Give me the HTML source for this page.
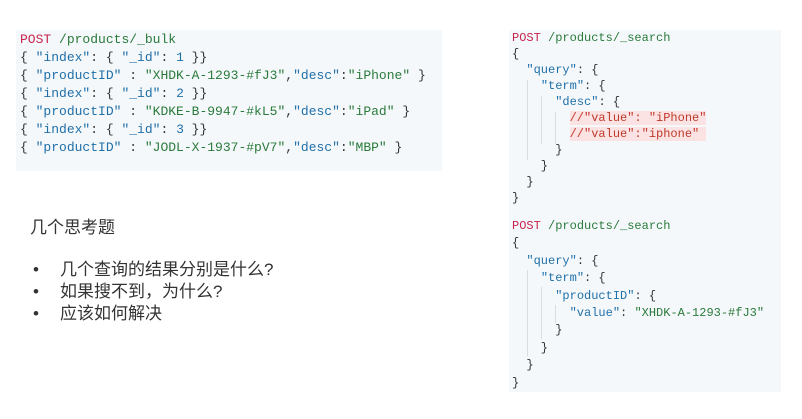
<!DOCTYPE html>
<html><head><meta charset="utf-8"><style>
body{margin:0;width:802px;height:419px;background:#fff;position:relative;overflow:hidden}
.box{position:absolute;background:#f5f8fb}
.code{position:absolute;font-family:"Liberation Mono",monospace;color:#333}
.code div{height:16px;line-height:16px;white-space:pre}
.p{color:#c7254e}.s{color:#2a7a3a}.k{color:#1f6fa8}.u{color:#2a7a3a}
.c{color:#c0392b;background:#fbe3e3}
.g{position:absolute;width:1px;background:#d8dde2}
.t{position:absolute;font-family:"Liberation Sans","Noto Sans CJK SC",sans-serif;color:#333;font-size:17px;line-height:20px;white-space:nowrap}
</style></head><body>
<div class="box" style="left:16px;top:30px;width:426px;height:141px"></div>
<div class="code l" style="left:20px;top:31px;font-size:13px">
<style>.l div{height:18px!important;line-height:18px!important}.r2 div{height:17.4px!important;line-height:17.4px!important}</style>
<div><span class="p">POST</span> <span class="u">/products/_bulk</span></div>
<div>{ <span class="k">"index"</span>: { <span class="k">"_id"</span>: <span class="k">1</span> }}</div>
<div>{ <span class="k">"productID"</span> : <span class="s">"XHDK-A-1293-#fJ3"</span>,<span class="k">"desc"</span>:<span class="s">"iPhone"</span> }</div>
<div>{ <span class="k">"index"</span>: { <span class="k">"_id"</span>: <span class="k">2</span> }}</div>
<div>{ <span class="k">"productID"</span> : <span class="s">"KDKE-B-9947-#kL5"</span>,<span class="k">"desc"</span>:<span class="s">"iPad"</span> }</div>
<div>{ <span class="k">"index"</span>: { <span class="k">"_id"</span>: <span class="k">3</span> }}</div>
<div>{ <span class="k">"productID"</span> : <span class="s">"JODL-X-1937-#pV7"</span>,<span class="k">"desc"</span>:<span class="s">"MBP"</span> }</div>
</div>

<div class="box" style="left:509px;top:30px;width:272px;height:190px"></div>
<div class="g" style="left:527px;top:80px;height:80px"></div>
<div class="g" style="left:541px;top:96px;height:48px"></div>
<div class="g" style="left:555px;top:112px;height:32px"></div>
<div class="code" style="left:512px;top:30px;font-size:12px">
<div><span class="p">POST</span> <span class="u">/products/_search</span></div>
<div>{</div>
<div>  <span class="k">"query"</span>: {</div>
<div>    <span class="k">"term"</span>: {</div>
<div>      <span class="k">"desc"</span>: {</div>
<div>        <span class="c">//"value": "iPhone"</span></div>
<div>        <span class="c">//"value":"iphone" </span></div>
<div>      }</div>
<div>    }</div>
<div>  }</div>
<div>}</div>
</div>

<div class="box" style="left:509px;top:217px;width:272px;height:175px"></div>
<div class="g" style="left:527px;top:270px;height:86px"></div>
<div class="g" style="left:541px;top:287px;height:52px"></div>
<div class="g" style="left:555px;top:305px;height:18px"></div>
<div class="code r2" style="left:512px;top:218px;font-size:12px">
<div><span class="p">POST</span> <span class="u">/products/_search</span></div>
<div>{</div>
<div>  <span class="k">"query"</span>: {</div>
<div>    <span class="k">"term"</span>: {</div>
<div>      <span class="k">"productID"</span>: {</div>
<div>        <span class="k">"value"</span>: <span class="s">"XHDK-A-1293-#fJ3"</span></div>
<div>      }</div>
<div>    }</div>
<div>  }</div>
<div>}</div>
</div>

<div class="t" style="left:30px;top:218px">几个思考题</div>
<div class="t" style="left:33px;top:260px">•</div><div class="t" style="left:60px;top:260px">几个查询的结果分别是什么?</div>
<div class="t" style="left:33px;top:282px">•</div><div class="t" style="left:60px;top:282px">如果搜不到，为什么?</div>
<div class="t" style="left:33px;top:304px">•</div><div class="t" style="left:60px;top:304px">应该如何解决</div>
</body></html>
